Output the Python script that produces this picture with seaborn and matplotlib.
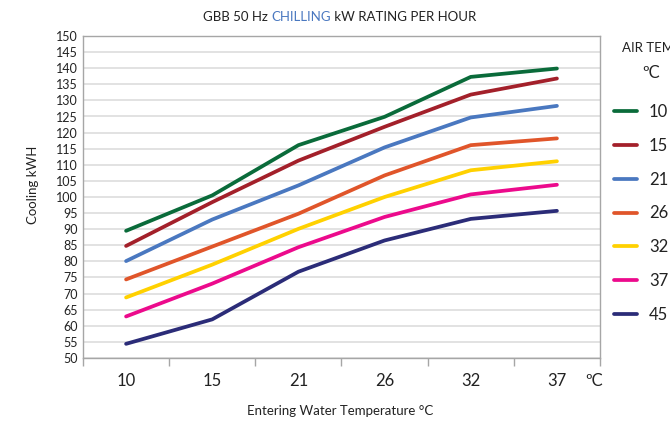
import pandas as pd
import matplotlib
matplotlib.use("Agg")
import matplotlib.pyplot as plt
import seaborn as sns
from matplotlib.lines import Line2D

water_temps = ["10", "15", "21", "26", "32", "37"]
air_temps = ["10", "15", "21", "26", "32", "37", "45"]

cool_10 = [89.5, 100.5, 116.1, 124.9, 137.3, 139.9]
cool_15 = [84.8, 98.4, 111.3, 121.8, 131.8, 136.8]
cool_21 = [80.1, 93.0, 103.6, 115.4, 124.7, 128.3]
cool_26 = [74.4, 84.6, 94.8, 106.7, 116.1, 118.2]
cool_32 = [68.8, 79.0, 90.1, 100.0, 108.3, 111.1]
cool_37 = [62.9, 73.1, 84.4, 93.8, 100.8, 103.8]
cool_45 = [54.4, 62.0, 76.8, 86.5, 93.2, 95.7]

colors = ["#0a6b3a", "#a3202a", "#4a78c0", "#e0552a", "#ffd100", "#ec0a8c", "#2b2c78"]

series = [cool_10, cool_15, cool_21, cool_26, cool_32, cool_37, cool_45]
rows = []
for air, vals in zip(air_temps, series):
    for w, v in zip(water_temps, vals):
        rows.append({"water": w, "air": air, "kw": v})
df = pd.DataFrame(rows)

sns.set_style("white")
plt.rcParams["font.family"] = ["Lato", "DejaVu Sans"]

fig = plt.figure(figsize=(6.7, 4.23), dpi=100)
ax = fig.add_axes([83 / 670, 1 - 358 / 423, (600 - 83) / 670, (358 - 36) / 423])

sns.lineplot(data=df, x="water", y="kw", hue="air", palette=colors, lw=2.7,
             ax=ax, legend=False, solid_capstyle="round", solid_joinstyle="round")

ax.set_ylim(50, 150)
ax.set_yticks(range(50, 151, 5))
ax.tick_params(axis="y", length=0, pad=4, labelsize=9, colors="#222222")
ax.grid(axis="y", color="#dadada", lw=1.1)
ax.set_axisbelow(True)

ax.set_xlim(-0.5, 5.5)
ax.set_xticks([i - 0.5 for i in range(7)])
ax.set_xticklabels([])
ax.set_xticks(range(6), minor=True)
ax.set_xticklabels(water_temps, minor=True)
ax.tick_params(axis="x", which="major", direction="out", length=6, width=1, color="#a6a6a6", bottom=True)
ax.tick_params(axis="x", which="minor", length=0, pad=11, labelsize=12, labelcolor="#222222")
ax.set_xlabel("")
ax.set_ylabel("")

for s in ax.spines.values():
    s.set_color("#a6a6a6")
    s.set_linewidth(1)

fig.text(594 / 670, 1 - 381 / 423, "ºC", ha="center", va="center", fontsize=12, color="#222222")
fig.text(33 / 670, 1 - 185 / 423, "Cooling kWH", rotation=90, ha="center", va="center", fontsize=9.5, color="#222222")
fig.text(340 / 670, 1 - 411 / 423, "Entering Water Temperature °C", ha="center", va="center", fontsize=9.5, color="#222222")

# title in three colours
parts = [("GBB 50 Hz ", "#222222"), ("CHILLING", "#4a78c0"), (" kW RATING PER HOUR", "#222222")]
texts = [fig.text(0, 1 - 17 / 423, p, color=c, fontsize=9.5, va="center") for p, c in parts]
fig.canvas.draw()
r = fig.canvas.get_renderer()
widths = [t.get_window_extent(r).width for t in texts]
x0 = 340 - sum(widths) / 2
for t, w in zip(texts, widths):
    t.set_x(x0 / 670)
    x0 += w

# legend (title runs off the right edge, as in the original)
fig.text(622 / 670, 1 - 48 / 423, "AIR TEMP", ha="left", va="center", fontsize=9.5, color="#222222")
fig.text(651 / 670, 1 - 73 / 423, "ºC", ha="center", va="center", fontsize=12, color="#222222")
handles = [Line2D([], [], color=c, lw=2.7) for c in colors]
fig.legend(handles, air_temps, loc="upper left", bbox_to_anchor=(614 / 670, 1 - 104 / 423),
           frameon=False, fontsize=12, labelspacing=1.07, handlelength=1.4,
           handletextpad=0.7, borderpad=0, borderaxespad=0, labelcolor="#222222")

fig.savefig("out.png", dpi=100)
